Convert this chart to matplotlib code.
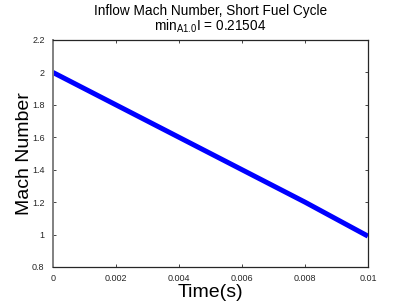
import numpy as np
import matplotlib
matplotlib.use("Agg")
import matplotlib.pyplot as plt

plt.rcParams['font.family'] = ['Liberation Sans', 'DejaVu Sans']
plt.rcParams['mathtext.fontset'] = 'custom'
plt.rcParams['mathtext.rm'] = 'Liberation Sans'

# data
time_s = [0.0, 0.002, 0.004, 0.006, 0.008, 0.01]
mach = [2.0, 1.80, 1.60, 1.40, 1.20, 0.99]
xticks = [0, 0.002, 0.004, 0.006, 0.008, 0.01]
xtick_labels = ['0', '0.002', '0.004', '0.006', '0.008', '0.01']
yticks = [0.8, 1.0, 1.2, 1.4, 1.6, 1.8, 2.0, 2.2]
ytick_labels = ['0.8', '1', '1.2', '1.4', '1.6', '1.8', '2', '2.2']

fig = plt.figure(figsize=(4.07, 3.03), dpi=100)
ax = fig.add_axes([0.130, 0.119, 0.774, 0.749])

ax.plot(time_s, mach, color=(0, 0, 1), linewidth=3.6, solid_capstyle='butt')

ax.set_xlim(0, 0.01)
ax.set_ylim(0.8, 2.2)
ax.set_xticks(xticks)
ax.set_xticklabels(xtick_labels)
ax.set_yticks(yticks)
ax.set_yticklabels(ytick_labels)
ax.tick_params(direction='in', top=True, right=True, labelsize=6.5,
               length=2.5, width=0.6, colors='#262626')
ax.tick_params(axis='x', pad=5)
ax.tick_params(axis='y', pad=6)

for side in ['top', 'right', 'bottom']:
    ax.spines[side].set_color('#262626')
    ax.spines[side].set_linewidth(0.9)
ax.spines['left'].set_color('#808080')
ax.spines['left'].set_linewidth(1.4)

ax.set_xlabel('Time(s)', fontsize=14, labelpad=1)
ax.set_ylabel('Mach Number', fontsize=14, labelpad=-1)
ax.set_title('Inflow Mach Number, Short Fuel Cycle\nmin$_{\\mathrm{A1.0}}$I = 0.21504',
             fontsize=9.8, linespacing=0.95, pad=7)

fig.savefig('out.png', dpi=100)
